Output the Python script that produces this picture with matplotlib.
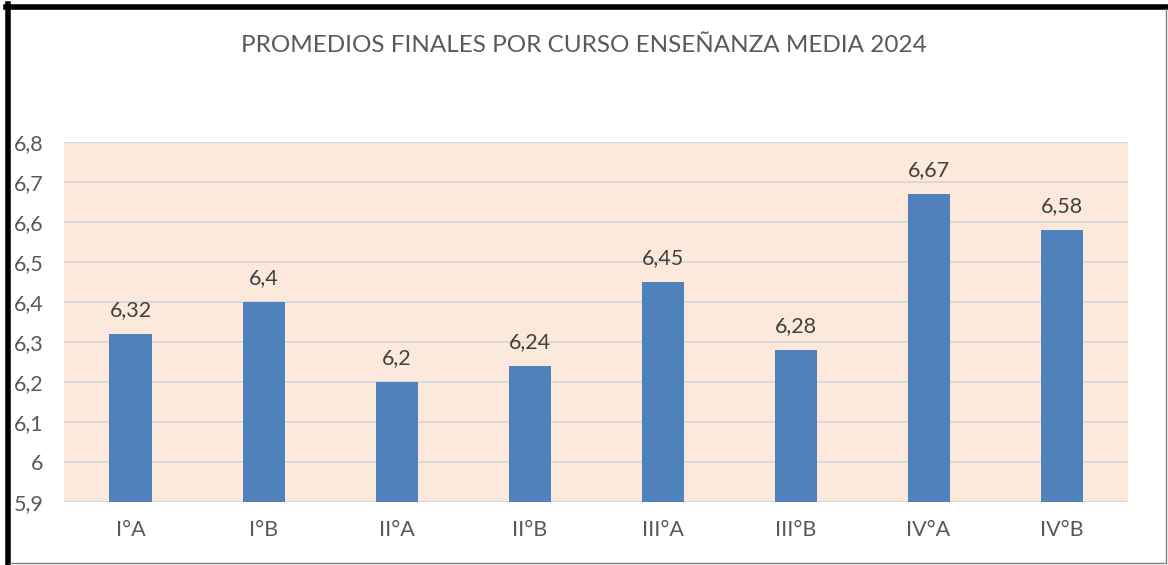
import numpy as np
import matplotlib.pyplot as plt
from matplotlib.lines import Line2D

plt.rcParams['font.family'] = ['Lato', 'DejaVu Sans']

cursos = ["I°A", "I°B", "II°A", "II°B", "III°A", "III°B", "IV°A", "IV°B"]
promedios = [6.32, 6.4, 6.2, 6.24, 6.45, 6.28, 6.67, 6.58]
yticks = [5.9, 6.0, 6.1, 6.2, 6.3, 6.4, 6.5, 6.6, 6.7, 6.8]

def coma(v):
    s = ("%.2f" % v).rstrip("0").rstrip(".")
    return s.replace(".", ",")

fig = plt.figure(figsize=(11.68, 5.65), dpi=100)
ax = fig.add_axes([0.0548, 0.1115, 0.911, 0.6372])
ax.set_facecolor("#FCE9DB")

x = np.arange(len(cursos))
bars = ax.bar(x, [v - 5.9 for v in promedios], bottom=5.9, width=0.316,
              color="#4F81BD", zorder=3)
for xi, v in zip(x, promedios):
    ax.text(xi, v + 0.035, coma(v), ha="center", va="bottom",
            fontsize=15.5, color="#404040")

ax.set_xlim(-0.5, len(cursos) - 0.5)
ax.set_ylim(5.9, 6.8)
ax.set_yticks(yticks)
ax.set_yticklabels([coma(v) for v in yticks])
ax.set_xticks(x)
ax.set_xticklabels(cursos)
ax.tick_params(length=0, labelsize=15.5, labelcolor="#595959")
ax.tick_params(axis="y", pad=15)
ax.tick_params(axis="x", pad=13)
ax.grid(axis="y", color="#D9D9D9", linewidth=1.5, zorder=1)
ax.set_axisbelow(True)
for s in ax.spines.values():
    s.set_visible(False)

fig.text(0.5, 0.92, "PROMEDIOS FINALES POR CURSO ENSEÑANZA MEDIA 2024",
         ha="center", va="center", fontsize=17.5, color="#595959")

# marco
fig.add_artist(Line2D([8 / 1168, 8 / 1168], [0, 1 - 4 / 565], color="black",
                      linewidth=4, transform=fig.transFigure))
fig.add_artist(Line2D([6 / 1168, 1166 / 1168], [1 - 6.5 / 565, 1 - 6.5 / 565],
                      color="black", linewidth=4, transform=fig.transFigure))
fig.add_artist(Line2D([1166 / 1168, 1166 / 1168], [2 / 565, 1 - 9 / 565],
                      color="#808080", linewidth=1, transform=fig.transFigure))
fig.add_artist(Line2D([10 / 1168, 1166 / 1168], [2 / 565, 2 / 565],
                      color="#808080", linewidth=1, transform=fig.transFigure))

fig.savefig("out.png", dpi=100)
